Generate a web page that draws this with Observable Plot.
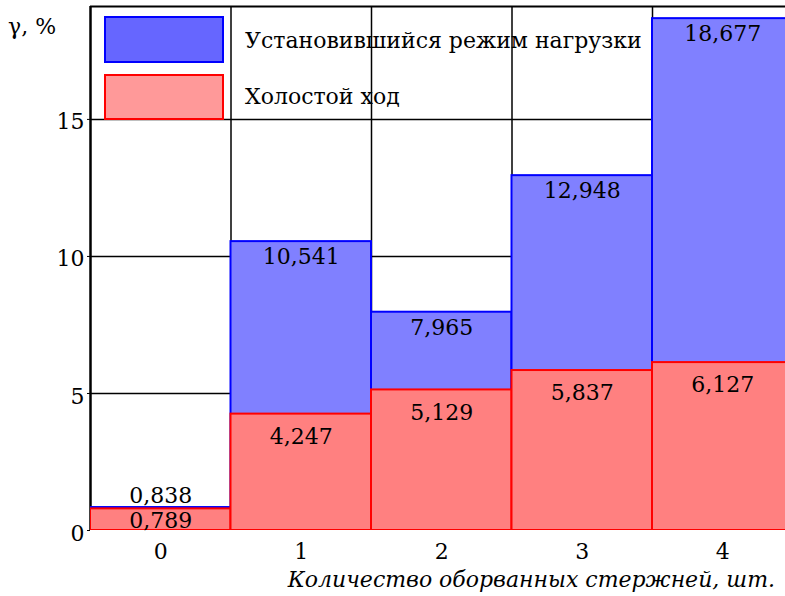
<!DOCTYPE html>
<html><head><meta charset="utf-8">
<script src="https://cdn.jsdelivr.net/npm/d3@7"></script>
<script src="https://cdn.jsdelivr.net/npm/@observablehq/plot@0.6"></script>
<style>
html,body{margin:0;padding:0;background:#fff;overflow:hidden}
</style>
</head><body><div id="chart"></div>
<script>
const rods = [0, 1, 2, 3, 4];
const steadyLoad = [0.838, 10.541, 7.965, 12.948, 18.677];
const idleRun = [0.789, 4.247, 5.129, 5.837, 6.127];
const yTicks = [0, 5, 10, 15];
const seriesNames = ["Установившийся режим нагрузки", "Холостой ход"];
const xTitle = "Количество оборванных стержней, шт.";
const yTitle = "γ, %";

const fmt = v => v.toFixed(3).replace(".", ",");
const blue = rods.map((r, i) => ({r, v: steadyLoad[i]}));
const red = rods.map((r, i) => ({r, v: idleRun[i]}));
const yMax = 19.12;
const FS = 22;
const FONT = "DejaVu Serif";

const plot = Plot.plot({
  width: 785, height: 596,
  marginLeft: 90, marginRight: 0, marginTop: 6, marginBottom: 66,
  style: {fontSize: FS + "px", color: "black", background: "white"},
  x: {type: "linear", domain: [-0.5, 4.5], range: [90, 792.5], ticks: rods, tickFormat: d => String(d), tickSize: 0, tickPadding: 13, label: null},
  y: {domain: [0, yMax], ticks: yTicks, tickFormat: d => String(d), tickSize: 3, tickPadding: 3, label: null},
  marks: [
    Plot.ruleY(yTicks.slice(1), {stroke: "black", strokeWidth: 1.5}),
    Plot.ruleX(rods.slice(1).map(r => r - 0.5), {stroke: "black", strokeWidth: 1.5}),
    Plot.ruleY([yMax], {stroke: "black", strokeWidth: 2}),
    Plot.ruleX([-0.5], {stroke: "black", strokeWidth: 2.5}),
    Plot.rect(blue, {x1: d => d.r - 0.5, x2: d => d.r + 0.5, y1: 0, y2: "v", fill: "#8080ff", stroke: "blue", strokeWidth: 2, clip: true}),
    Plot.rect(red, {x1: d => d.r - 0.5, x2: d => d.r + 0.5, y1: 0, y2: "v", fill: "#ff8080", stroke: "red", strokeWidth: 2, clip: true}),
    Plot.text(blue.filter(d => d.v >= 2), {x: "r", y: "v", text: d => fmt(d.v), lineAnchor: "top", dy: 7, fontSize: FS, fill: "black"}),
    Plot.text(blue.filter(d => d.v < 2), {x: "r", y: "v", text: d => fmt(d.v), lineAnchor: "bottom", dy: -5, fontSize: FS, fill: "black"}),
    Plot.text(red.filter(d => d.v >= 2), {x: "r", y: "v", text: d => fmt(d.v), lineAnchor: "top", dy: 14, fontSize: FS, fill: "black"}),
    Plot.text(red.filter(d => d.v < 2), {x: "r", y: "v", text: d => fmt(d.v), lineAnchor: "top", dy: 3, fontSize: FS, fill: "black"})
  ]
});

const svg = d3.select(plot);
const legend = svg.append("g").attr("font-size", FS).attr("text-anchor", "start");
legend.append("rect").attr("x", 105).attr("y", 17).attr("width", 118).attr("height", 45)
  .attr("fill", "#6666ff").attr("stroke", "blue").attr("stroke-width", 2);
legend.append("rect").attr("x", 105).attr("y", 75).attr("width", 118).attr("height", 44)
  .attr("fill", "#ff9999").attr("stroke", "red").attr("stroke-width", 2);
legend.append("text").attr("x", 245).attr("y", 48).attr("fill", "black").style("text-anchor", "start").text(seriesNames[0]);
legend.append("text").attr("x", 245).attr("y", 104).attr("fill", "black").style("text-anchor", "start").text(seriesNames[1]);
svg.append("text").attr("x", 8).attr("y", 34).attr("font-size", FS).style("text-anchor", "start")
  .attr("fill", "black").text(yTitle);
svg.append("text").attr("x", 775).attr("y", 587).style("text-anchor", "end").attr("font-style", "italic")
  .attr("font-size", FS).attr("fill", "black").text(xTitle);

svg.selectAll("g[aria-label='y-axis tick label']").attr("transform", function() {
  const t = d3.select(this).attr("transform") || "";
  return t + " translate(0,3)";
});

svg.attr("font-family", FONT).style("font-family", FONT);
svg.selectAll("g, text, tspan").attr("font-family", FONT).style("font-family", FONT);

document.getElementById("chart").appendChild(plot);
</script>
</body></html>
